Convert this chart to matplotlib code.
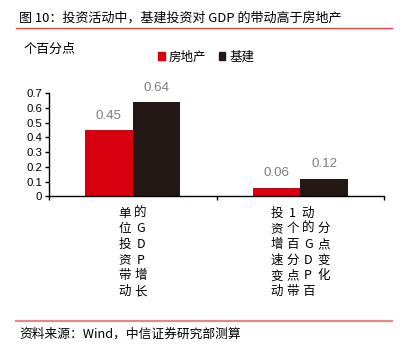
import matplotlib
matplotlib.use('Agg')
import matplotlib.pyplot as plt
from matplotlib.patches import Patch
from matplotlib.lines import Line2D
import numpy as np

plt.rcParams['font.family'] = ['Noto Sans CJK SC', 'DejaVu Sans']

# data
series_names = ['房地产', '基建']
realty = [0.45, 0.06]
infra = [0.64, 0.12]
# category labels, as laid out in the source (rows of a vertical grid)
tick_labels = [
    ['单的', '位G', '投D', '资P', '带增', '动长'],
    ['投1动', '资个的分', '增百G点', '速分D变', '变点P化', '动带百'],
]
yticks = [0, 0.1, 0.2, 0.3, 0.4, 0.5, 0.6, 0.7]

RED = '#D7000F'
BLACK = '#231815'
GRAY = '#7F7F7F'

fig = plt.figure(figsize=(4.12, 3.55), dpi=100)
ax = fig.add_axes([0.119, 0.4465, 0.813, 0.2915])

x = np.arange(len(realty))
w = 0.285
b1 = ax.bar(x - w / 2, realty, w, color=RED, label=series_names[0])
b2 = ax.bar(x + w / 2, infra, w, color=BLACK, label=series_names[1])

for bars, vals in ((b1, realty), (b2, infra)):
    for r, v in zip(bars, vals):
        ax.annotate(f'{v:.2f}', xy=(r.get_x() + r.get_width() / 2, v),
                    xytext=(0, 6), textcoords='offset points',
                    ha='center', va='bottom', color=GRAY, fontsize=9.6,
                    family='Liberation Sans', annotation_clip=False)

ax.set_xlim(-0.5, 1.5)
ax.set_ylim(0, 0.7)
ax.set_yticks(yticks)
ax.set_yticklabels([f'{t:g}' for t in yticks], family='Liberation Sans', fontsize=8.2)
ax.set_xticks([-0.5, 0.5, 1.5])
ax.set_xticklabels([])
for s in ('top', 'right'):
    ax.spines[s].set_visible(False)
for s in ('left', 'bottom'):
    ax.spines[s].set_linewidth(1.0)
    ax.spines[s].set_color('black')
ax.tick_params(axis='y', length=3, width=1, pad=2)
ax.tick_params(axis='x', length=3, width=1)

# vertical grid category labels
step = 11.3  # points
for i, rows in enumerate(tick_labels):
    ncol = max(len(r) for r in rows)
    for ri, row in enumerate(rows):
        for ci, ch in enumerate(row):
            ax.annotate(ch, xy=(i, 0), xytext=((ci - (ncol - 1) / 2) * step, -11.9 - ri * step),
                        textcoords='offset points', ha='center', va='center',
                        fontsize=9, annotation_clip=False)

# title, unit, legend, source
fig.text(0.046, 0.949, '图 10：投资活动中，基建投资对 GDP 的带动高于房地产', fontsize=9.4,
         va='center', ha='left')
fig.add_artist(Line2D([0.039, 0.951], [1 - 28 / 355] * 2, color='#E04A4A', lw=1.0))
fig.text(0.056, 0.862, '个百分点', fontsize=9.4, va='center', ha='left')
handles = [Patch(color=RED), Patch(color=BLACK)]
fig.legend(handles, series_names, loc='center', bbox_to_anchor=(0.5, 0.839), ncol=2,
           frameon=False, fontsize=9, handlelength=0.55, handleheight=0.55,
           handletextpad=0.3, columnspacing=1.0)
fig.add_artist(Line2D([0.039, 0.951], [1 - 321 / 355] * 2, color='#E88585', lw=1.5))
fig.text(0.046, 0.059, '资料来源：Wind，中信证券研究部测算', fontsize=9.2, va='center', ha='left')

fig.savefig('out.png', dpi=100)
